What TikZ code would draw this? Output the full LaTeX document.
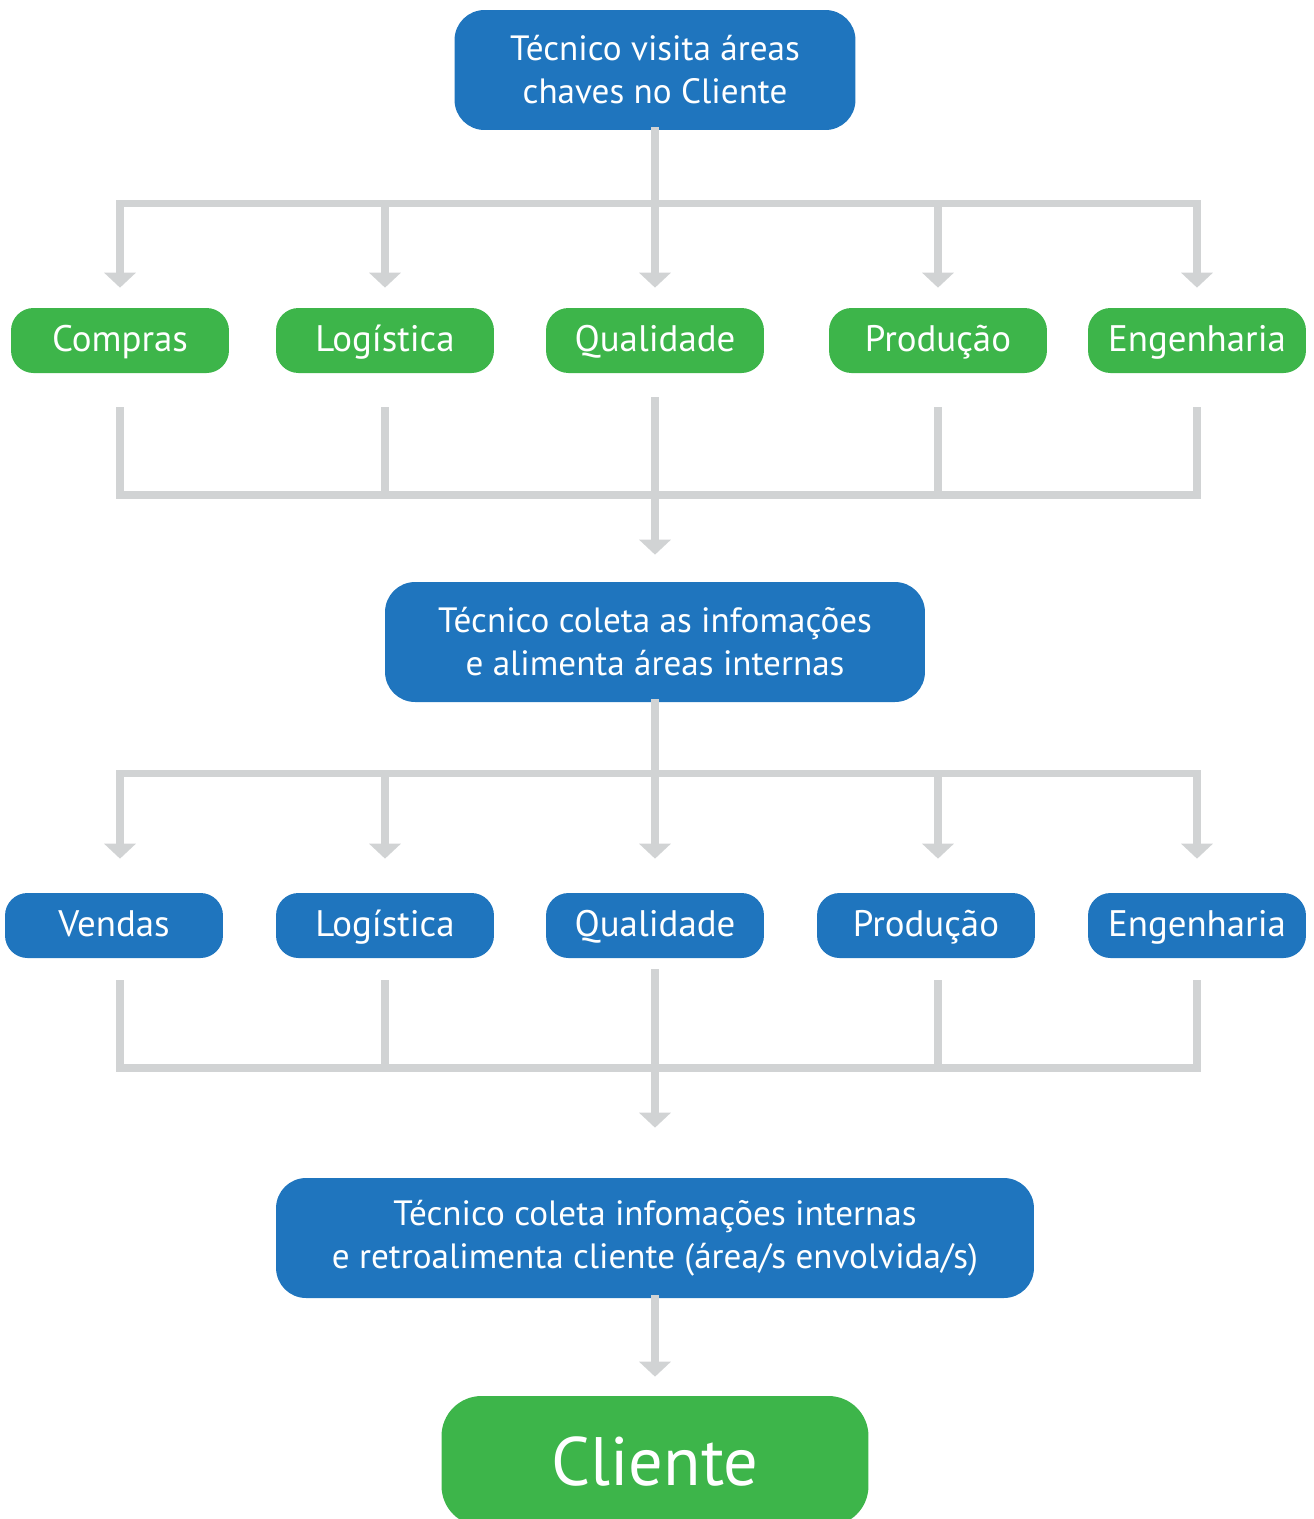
\documentclass[tikz,border=0pt]{standalone}
\usepackage{fontspec}
\setmainfont{PT Sans}
\usepackage{xcolor}
\usetikzlibrary{arrows.meta,positioning,calc}

\definecolor{azul}{HTML}{1F75BE}
\definecolor{verde}{HTML}{3DB54A}
\definecolor{cinza}{HTML}{D1D3D4}

\begin{document}
\begin{tikzpicture}[x=0.02cm, y=-0.02cm,
    etapa/.style={rectangle, fill=azul, text=white, rounded corners=0.6cm, align=center,
        minimum height=2.4cm, inner sep=0pt, font=\fontsize{20}{24.5}\selectfont},
    area/.style={rectangle, text=white, rounded corners=0.45cm, minimum width=4.36cm,
        minimum height=1.3cm, inner sep=0pt, text height=17pt, text depth=4pt,
        font=\fontsize{21}{24}\selectfont},
    liga/.style={draw=cinza, line width=0.15cm, line cap=rect},
    seta/.style={liga, -{Triangle[width=0.62cm,length=0.3cm]}}]

    \clip (0,0) rectangle (1314,1519);
    \useasboundingbox (0,0) rectangle (1314,1519);

    % Etapas
    \node[etapa, minimum width=8.02cm] (visita) at (655,70) {Técnico visita áreas\\chaves no Cliente};
    \node[etapa, minimum width=10.8cm] (coleta) at (655,642) {Técnico coleta as infomações\\e alimenta áreas internas};
    \node[etapa, minimum width=15.16cm] (retro) at (655,1238) {Técnico coleta infomações internas\\e retroalimenta cliente (área/s envolvida/s)};
    \node[area, fill=verde, minimum width=8.54cm, minimum height=2.6cm, rounded corners=0.8cm,
        text height=28pt, text depth=0pt, font=\fontsize{39}{43}\selectfont] (cliente) at (655,1461) {Cliente};

    % Areas do cliente
    \node[area, fill=verde] (compras) at (120,340.5) {Compras};
    \node[area, fill=verde] (logC) at (385,340.5) {Logística};
    \node[area, fill=verde] (qualC) at (655,340.5) {Qualidade};
    \node[area, fill=verde] (prodC) at (938,340.5) {Produção};
    \node[area, fill=verde] (engC) at (1197,340.5) {Engenharia};

    % Areas internas
    \node[area, fill=azul] (vendas) at (114,925.5) {Vendas};
    \node[area, fill=azul] (logI) at (385,925.5) {Logística};
    \node[area, fill=azul] (qualI) at (655,925.5) {Qualidade};
    \node[area, fill=azul] (prodI) at (926,925.5) {Produção};
    \node[area, fill=azul] (engI) at (1197,925.5) {Engenharia};

    % Barras
    \coordinate (b1) at (655,203.5);
    \coordinate (b2) at (655,495);
    \coordinate (b3) at (655,773.5);
    \coordinate (b4) at (655,1068);

    % Visita -> areas do cliente
    \draw[liga] (visita) -- (b1);
    \draw[liga] (compras |- b1) -- (engC |- b1);
    \foreach \n in {compras,logC,qualC,prodC,engC}
        \draw[seta, shorten >=0.4cm] (\n |- b1) -- (\n);

    % Areas do cliente -> coleta
    \draw[liga, shorten <=0.74cm, shorten >=0.74cm] (compras) |- (b2) -| (engC);
    \draw[liga, shorten <=0.74cm] (logC) -- (logC |- b2);
    \draw[liga, shorten <=0.74cm] (prodC) -- (prodC |- b2);
    \draw[seta, shorten <=0.54cm, shorten >=0.54cm] (qualC) -- (coleta);

    % Coleta -> areas internas
    \draw[liga] (coleta) -- (b3);
    \draw[liga] (compras |- b3) -- (engC |- b3);
    \draw[seta, shorten >=0.68cm] (compras |- b3) -- (compras |- vendas.north);
    \foreach \n in {logI,qualI,engI}
        \draw[seta, shorten >=0.68cm] (\n |- b3) -- (\n);
    \draw[seta, shorten >=0.68cm] (prodC |- b3) -- (prodC |- prodI.north);

    % Areas internas -> retroalimenta
    \draw[liga, shorten <=0.5cm, shorten >=0.5cm] (compras |- vendas.south) |- (b4) -| (engI);
    \draw[liga, shorten <=0.5cm] (logI) -- (logI |- b4);
    \draw[liga, shorten <=0.5cm] (prodC |- prodI.south) -- (prodC |- b4);
    \draw[seta, shorten <=0.28cm, shorten >=1.0cm] (qualI) -- (retro);

    % Retroalimenta -> cliente
    \draw[seta, shorten >=0.38cm] (retro) -- (cliente);

\end{tikzpicture}
\end{document}
